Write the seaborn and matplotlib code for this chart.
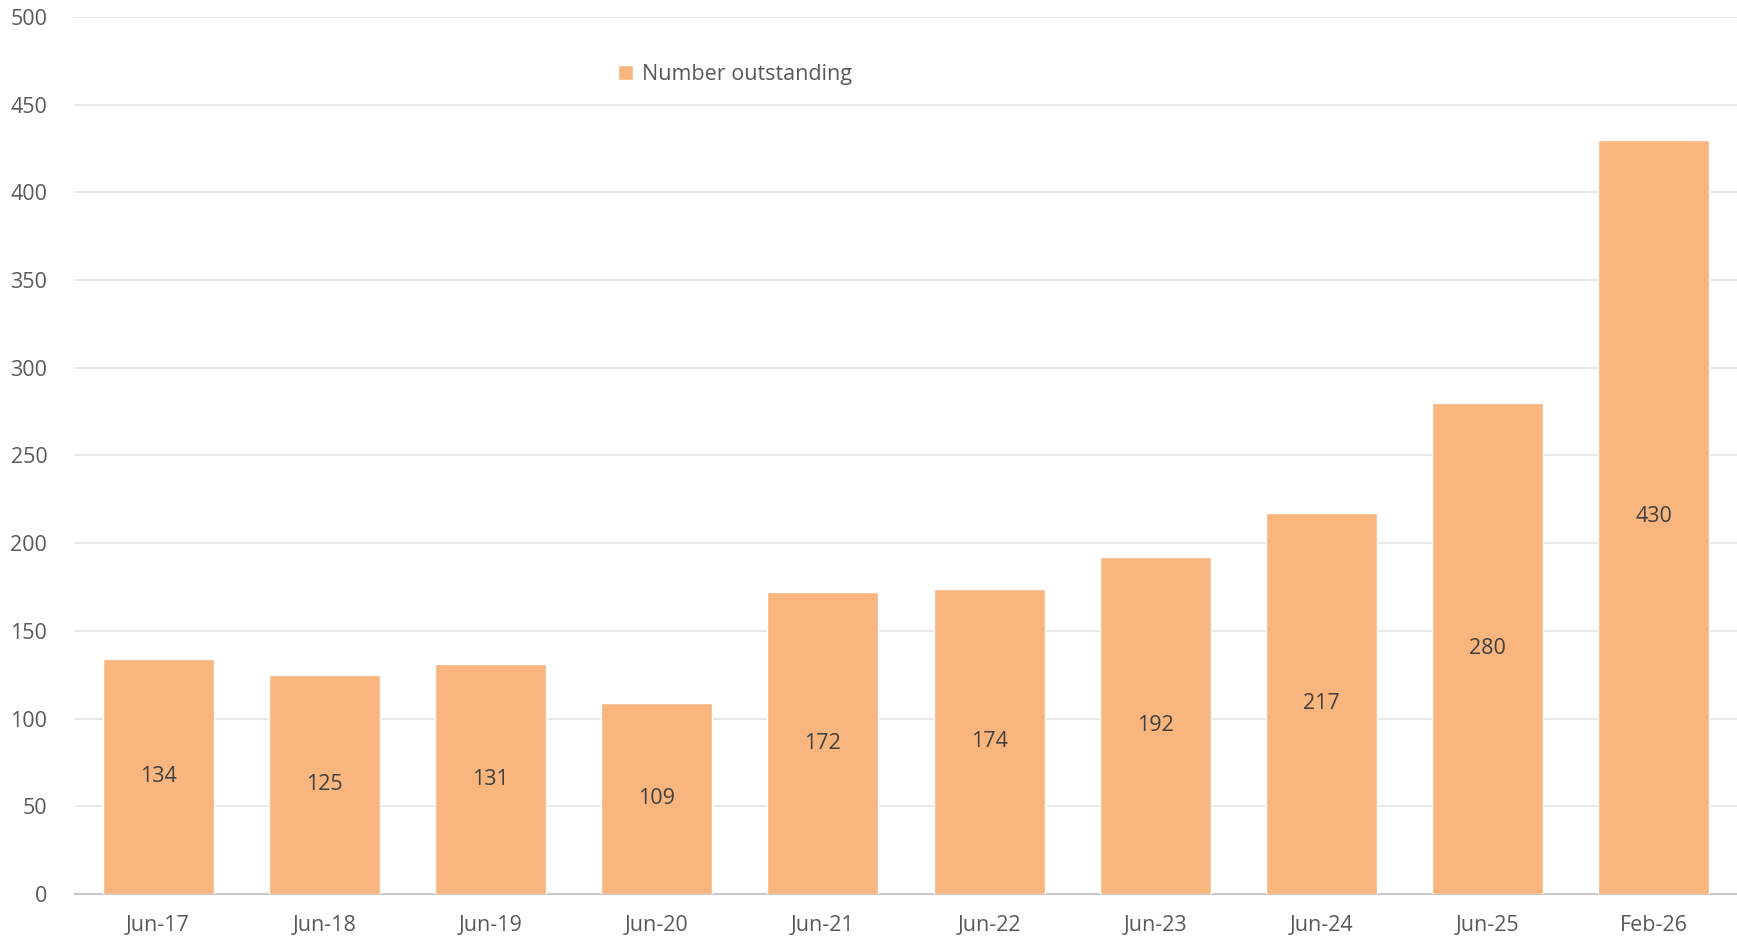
import matplotlib
matplotlib.use('Agg')
import matplotlib.pyplot as plt
import seaborn as sns
import pandas as pd

periods = ['Jun-17', 'Jun-18', 'Jun-19', 'Jun-20', 'Jun-21',
           'Jun-22', 'Jun-23', 'Jun-24', 'Jun-25', 'Feb-26']
outstanding = [134, 125, 131, 109, 172, 174, 192, 217, 280, 430]
y_ticks = [0, 50, 100, 150, 200, 250, 300, 350, 400, 450, 500]

data = pd.DataFrame({'Period': periods, 'Number outstanding': outstanding})

sns.set_style('white')
plt.rcParams['font.family'] = ['Open Sans', 'DejaVu Sans']

fig = plt.figure(figsize=(17.37, 9.41), dpi=100)
ax = fig.add_axes([0.0432, 0.05, 0.9568, 0.932])

sns.barplot(x='Period', y='Number outstanding', data=data, color='#F9B57E',
            saturation=1, width=0.667, label='Number outstanding', ax=ax, zorder=3)

for c in ax.containers:
    ax.bar_label(c, label_type='center', fontsize=15.5, color='#404040')

ax.set_ylim(0, 500)
ax.set_xlim(-0.5, len(periods) - 0.5)
ax.set_yticks(y_ticks)
ax.yaxis.grid(True, color='#E6E6E6', linewidth=1.3, zorder=0)
ax.set_axisbelow(True)
for s in ['top', 'right', 'left']:
    ax.spines[s].set_visible(False)
ax.spines['bottom'].set_color('#C8C8C8')
ax.spines['bottom'].set_linewidth(1.5)
ax.tick_params(axis='both', length=0, labelsize=15.5, labelcolor='#595959')
ax.tick_params(axis='x', pad=15)
ax.tick_params(axis='y', pad=20)
ax.set_xlabel('')
ax.set_ylabel('')

ax.legend(loc='upper left', bbox_to_anchor=(0.315, 0.968), frameon=False,
          fontsize=15.5, handlelength=0.7, handleheight=0.7, handletextpad=0.4,
          labelcolor='#595959')

fig.savefig('out.png', dpi=100)
